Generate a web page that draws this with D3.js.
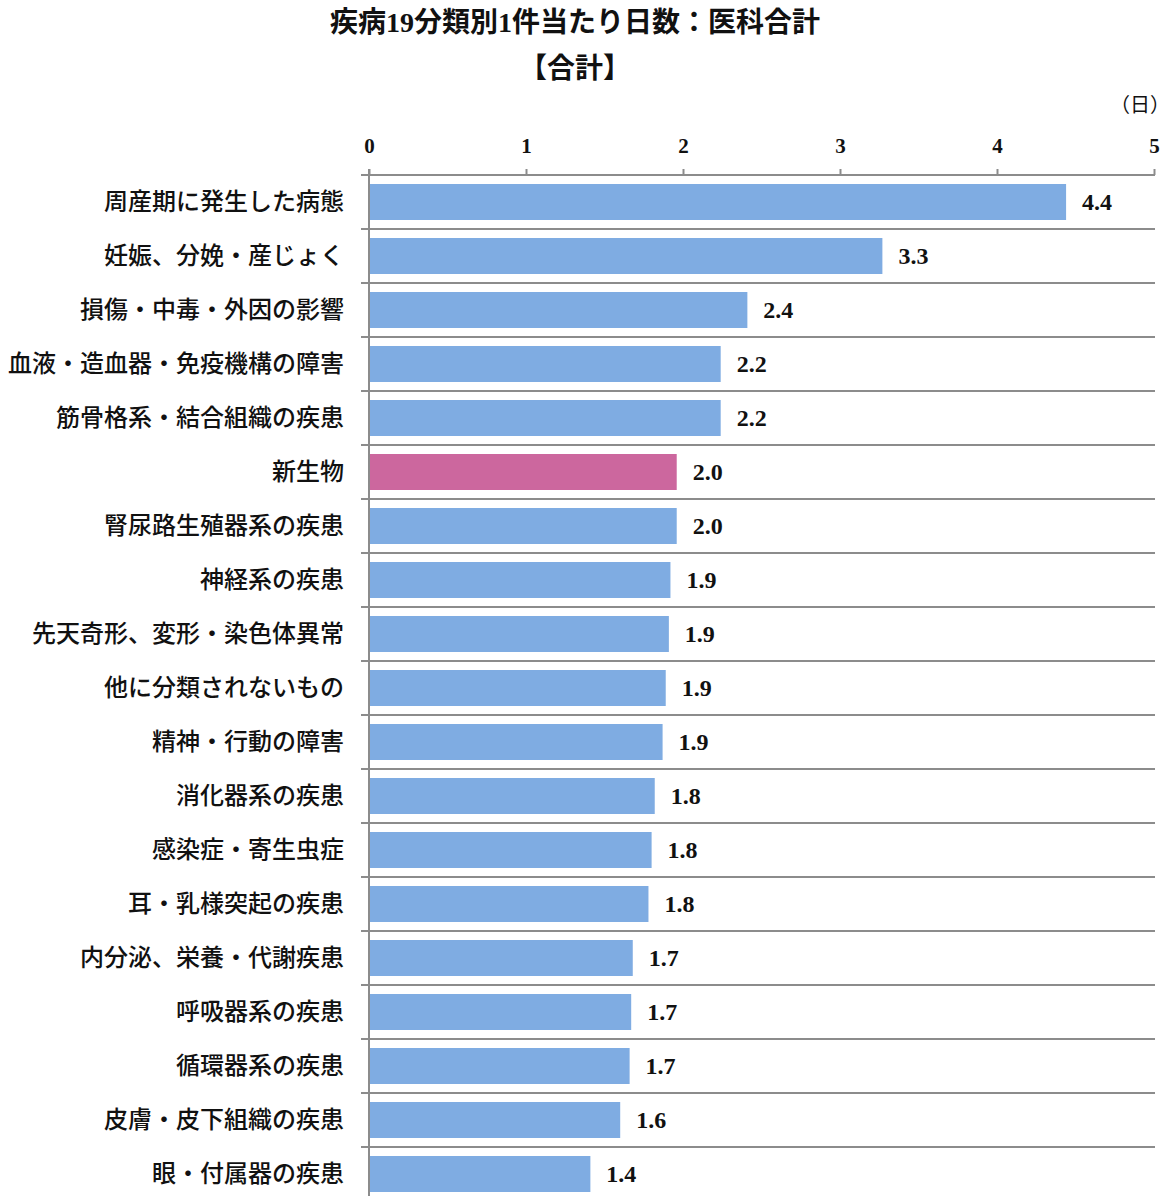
<!doctype html>
<html>
<head>
<meta charset="utf-8">
<title>疾病19分類別1件当たり日数：医科合計</title>
<script src="https://d3js.org/d3.v7.min.js"></script>
<style>
 body { margin: 0; background: #fff; }
 text { font-family: "Liberation Serif", "Noto Sans CJK JP", serif; fill: #111; }
</style>
</head>
<body>
<script>
// データ
var categories = ["周産期に発生した病態", "妊娠、分娩・産じょく", "損傷・中毒・外因の影響",
  "血液・造血器・免疫機構の障害", "筋骨格系・結合組織の疾患", "新生物", "腎尿路生殖器系の疾患",
  "神経系の疾患", "先天奇形、変形・染色体異常", "他に分類されないもの", "精神・行動の障害",
  "消化器系の疾患", "感染症・寄生虫症", "耳・乳様突起の疾患", "内分泌、栄養・代謝疾患",
  "呼吸器系の疾患", "循環器系の疾患", "皮膚・皮下組織の疾患", "眼・付属器の疾患"];
var values = [4.44, 3.27, 2.41, 2.24, 2.24, 1.96, 1.96, 1.92, 1.91, 1.89, 1.87,
  1.82, 1.80, 1.78, 1.68, 1.67, 1.66, 1.60, 1.41];
var highlight = ["新生物"];
var xTicks = [0, 1, 2, 3, 4, 5];

var W = 1171, H = 1196;
var x0 = 369, x1 = 1154, yTop = 175;
var band = 54;

var svg = d3.select("body").append("svg")
  .attr("width", W)
  .attr("height", H);

var x = d3.scaleLinear().domain([0, 5]).range([x0, x1]);
var y = d3.scaleBand().domain(categories)
  .range([yTop, yTop + band * categories.length])
  .paddingInner(1 / 3).paddingOuter(1 / 6);

// タイトル
svg.append("text")
  .attr("x", 575).attr("y", 32)
  .attr("text-anchor", "middle")
  .attr("font-size", 28).attr("font-weight", "bold")
  .text("疾病19分類別1件当たり日数：医科合計");
svg.append("text")
  .attr("x", 575).attr("y", 78)
  .attr("text-anchor", "middle")
  .attr("font-size", 28).attr("font-weight", "bold")
  .text("【合計】");
svg.append("text")
  .attr("x", 1170).attr("y", 112)
  .attr("text-anchor", "end")
  .attr("font-size", 20)
  .text("（日）");

// 区切り線
var bounds = d3.range(categories.length + 1);
svg.selectAll("line.grid").data(bounds).enter().append("line")
  .attr("class", "grid")
  .attr("x1", x0 - 8).attr("x2", x1 + 1)
  .attr("y1", function(d) { return yTop + d * band; })
  .attr("y2", function(d) { return yTop + d * band; })
  .attr("stroke", "#8c8c8c").attr("stroke-width", 2);

// 上の軸
var axis = svg.append("g")
  .attr("transform", "translate(0," + yTop + ")")
  .call(d3.axisTop(x).tickValues(xTicks).tickSize(6).tickPadding(16).tickFormat(d3.format("d")));
axis.select(".domain").remove();
axis.selectAll(".tick line").attr("stroke", "#8c8c8c").attr("stroke-width", 2);
axis.selectAll(".tick text")
  .attr("font-family", "Liberation Serif")
  .attr("font-size", 21).attr("font-weight", "bold")
  .attr("fill", "#111");

// 縦軸
svg.append("line")
  .attr("x1", x0).attr("x2", x0)
  .attr("y1", yTop - 6).attr("y2", H)
  .attr("stroke", "#8c8c8c").attr("stroke-width", 2);

// 棒
svg.selectAll("rect.bar").data(categories).enter().append("rect")
  .attr("class", "bar")
  .attr("x", x(0) + 1)
  .attr("y", function(d) { return y(d); })
  .attr("width", function(d, i) { return x(values[i]) - x(0) - 1; })
  .attr("height", y.bandwidth())
  .attr("fill", function(d) { return highlight.indexOf(d) >= 0 ? "#cc679e" : "#7facE2"; });

// 値ラベル
svg.selectAll("text.val").data(categories).enter().append("text")
  .attr("class", "val")
  .attr("x", function(d, i) { return x(values[i]) + 16; })
  .attr("y", function(d) { return y(d) + y.bandwidth() / 2; })
  .attr("dy", "0.35em")
  .attr("font-size", 24).attr("font-weight", "bold")
  .text(function(d, i) { return d3.format(".1f")(values[i]); });

// 項目名
svg.selectAll("text.cat").data(categories).enter().append("text")
  .attr("class", "cat")
  .attr("x", 344)
  .attr("y", function(d) { return y(d) + y.bandwidth() / 2; })
  .attr("dy", "0.35em")
  .attr("text-anchor", "end")
  .attr("font-size", 24).attr("font-weight", 500)
  .text(function(d) { return d; });
</script>
</body>
</html>
